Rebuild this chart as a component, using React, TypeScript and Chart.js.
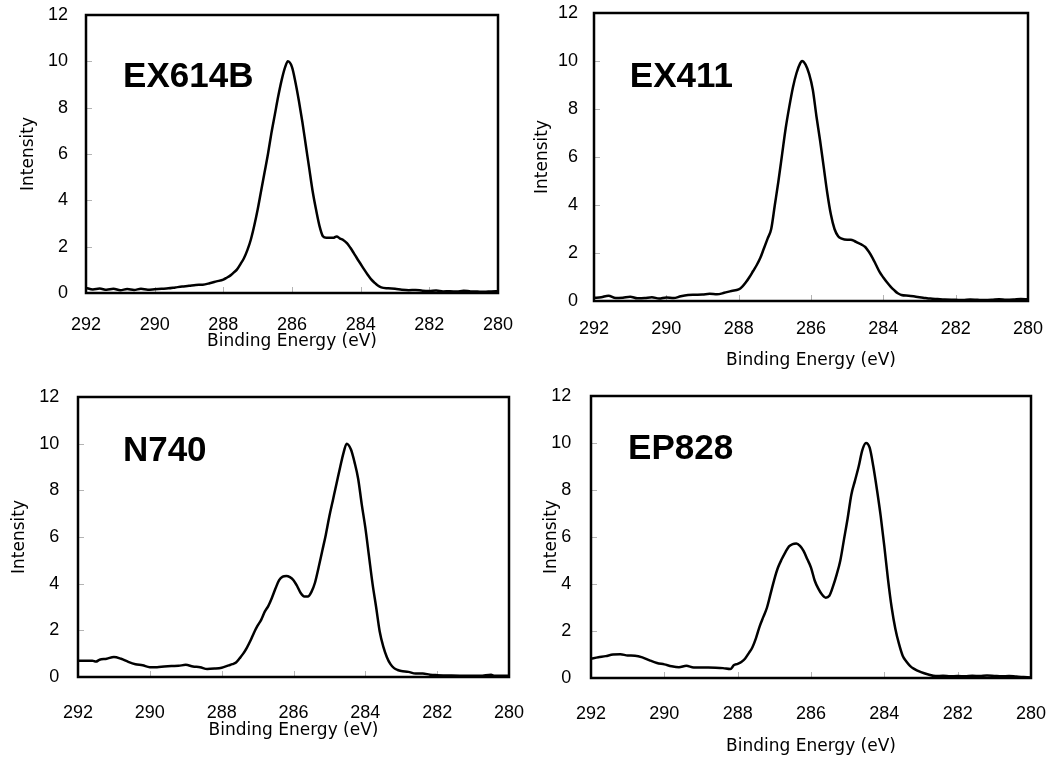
import React, { useEffect, useRef } from "react";
import { Chart, registerables } from "chart.js";

Chart.register(...registerables);

// ---- tick values ----
const xTickValues = [292, 290, 288, 286, 284, 282, 280];
const yTickValues = [0, 2, 4, 6, 8, 10, 12];
const xAxisTitle = "Binding Energy (eV)";
const yAxisTitle = "Intensity";
const sampleNames = ["EX614B", "EX411", "N740", "EP828"];

// ---- EX614B ----
const ex614bEnergy = [292.0, 291.8, 291.6, 291.4, 291.2, 291.0, 290.8, 290.6, 290.4, 290.2, 290.0, 289.8, 289.6, 289.4, 289.2, 289.0, 288.8, 288.6, 288.4, 288.2, 288.0, 287.9, 287.8, 287.7, 287.6, 287.5, 287.4, 287.3, 287.2, 287.1, 287.0, 286.9, 286.8, 286.7, 286.6, 286.5, 286.4, 286.3, 286.2, 286.12, 286.0, 285.9, 285.8, 285.7, 285.6, 285.5, 285.4, 285.3, 285.2, 285.1, 285.0, 284.9, 284.8, 284.7, 284.6, 284.5, 284.4, 284.3, 284.2, 284.1, 284.0, 283.9, 283.8, 283.7, 283.6, 283.5, 283.4, 283.2, 283.0, 282.8, 282.6, 282.4, 282.2, 282.0, 281.8, 281.6, 281.4, 281.2, 281.0, 280.8, 280.6, 280.4, 280.2, 280.0];
const ex614bIntensity = [0.22, 0.15, 0.19, 0.14, 0.18, 0.12, 0.17, 0.13, 0.18, 0.14, 0.16, 0.18, 0.2, 0.24, 0.28, 0.31, 0.35, 0.36, 0.42, 0.5, 0.58, 0.66, 0.75, 0.88, 1.02, 1.25, 1.5, 1.85, 2.3, 2.9, 3.6, 4.4, 5.2, 6.0, 6.9, 7.7, 8.5, 9.2, 9.75, 10.0, 9.75, 9.1, 8.3, 7.4, 6.4, 5.4, 4.4, 3.6, 2.9, 2.45, 2.38, 2.38, 2.38, 2.44, 2.35, 2.28, 2.15, 1.95, 1.72, 1.48, 1.25, 1.02, 0.8, 0.6, 0.45, 0.32, 0.24, 0.2, 0.18, 0.14, 0.12, 0.13, 0.1, 0.09, 0.11, 0.07, 0.08, 0.06, 0.1, 0.07, 0.06, 0.05, 0.07, 0.08];

// ---- EX411 ----
const ex411Energy = [292.0, 291.8, 291.6, 291.4, 291.2, 291.0, 290.8, 290.6, 290.4, 290.2, 290.0, 289.8, 289.6, 289.4, 289.2, 289.0, 288.8, 288.6, 288.4, 288.2, 288.0, 287.9, 287.8, 287.7, 287.6, 287.5, 287.4, 287.3, 287.2, 287.1, 287.0, 286.9, 286.8, 286.7, 286.6, 286.5, 286.4, 286.3, 286.25, 286.15, 286.05, 285.95, 285.85, 285.75, 285.65, 285.55, 285.45, 285.35, 285.25, 285.15, 285.0, 284.9, 284.8, 284.7, 284.6, 284.5, 284.4, 284.3, 284.2, 284.1, 284.0, 283.9, 283.8, 283.7, 283.6, 283.5, 283.3, 283.1, 282.9, 282.7, 282.5, 282.3, 282.0, 281.8, 281.6, 281.4, 281.2, 281.0, 280.8, 280.6, 280.4, 280.2, 280.0];
const ex411Intensity = [0.13, 0.16, 0.22, 0.12, 0.14, 0.18, 0.11, 0.12, 0.16, 0.1, 0.15, 0.12, 0.2, 0.25, 0.26, 0.27, 0.3, 0.28, 0.34, 0.42, 0.48, 0.6, 0.78, 1.0, 1.25, 1.5, 1.8, 2.2, 2.6, 3.0, 4.0, 5.0, 6.1, 7.2, 8.1, 8.9, 9.5, 9.9, 10.0, 9.85, 9.45, 8.8, 7.7, 6.7, 5.6, 4.5, 3.6, 3.0, 2.7, 2.6, 2.55, 2.55, 2.5, 2.42, 2.35, 2.25, 2.05, 1.8, 1.5, 1.2, 0.98, 0.78, 0.6, 0.45, 0.32, 0.25, 0.22, 0.18, 0.14, 0.1, 0.08, 0.06, 0.05, 0.04, 0.06, 0.05, 0.04, 0.05, 0.07, 0.05, 0.06, 0.08, 0.07];

// ---- N740 ----
const n740Energy = [292.0, 291.8, 291.6, 291.5, 291.4, 291.2, 291.0, 290.8, 290.6, 290.4, 290.2, 290.0, 289.8, 289.6, 289.4, 289.2, 289.0, 288.8, 288.6, 288.4, 288.2, 288.0, 287.8, 287.7, 287.6, 287.5, 287.4, 287.3, 287.2, 287.1, 287.0, 286.9, 286.8, 286.7, 286.6, 286.5, 286.4, 286.3, 286.2, 286.1, 286.0, 285.9, 285.8, 285.7, 285.6, 285.5, 285.4, 285.3, 285.2, 285.1, 285.0, 284.9, 284.8, 284.7, 284.6, 284.52, 284.4, 284.3, 284.2, 284.1, 284.0, 283.9, 283.8, 283.7, 283.6, 283.5, 283.4, 283.3, 283.2, 283.1, 283.0, 282.8, 282.6, 282.4, 282.2, 282.0, 281.6, 281.2, 280.8, 280.5, 280.4, 280.0];
const n740Intensity = [0.7, 0.7, 0.7, 0.66, 0.74, 0.78, 0.86, 0.78, 0.65, 0.55, 0.5, 0.42, 0.42, 0.45, 0.47, 0.48, 0.52, 0.45, 0.42, 0.34, 0.36, 0.4, 0.5, 0.55, 0.62, 0.8, 1.0, 1.25, 1.55, 1.9, 2.2, 2.45, 2.8, 3.05, 3.4, 3.8, 4.15, 4.3, 4.33, 4.28, 4.15, 3.9, 3.6, 3.45, 3.45, 3.65, 4.05, 4.7, 5.4, 6.1, 6.9, 7.6, 8.3, 9.0, 9.65, 10.0, 9.75, 9.2, 8.5, 7.4, 6.4, 5.2, 4.0, 3.0, 1.95, 1.3, 0.85, 0.55, 0.38, 0.3, 0.26, 0.22, 0.15, 0.15, 0.1, 0.08, 0.06, 0.05, 0.05, 0.1, 0.05, 0.05];

// ---- EP828 ----
const ep828Energy = [292.0, 291.8, 291.6, 291.4, 291.2, 291.0, 290.8, 290.6, 290.4, 290.2, 290.0, 289.8, 289.6, 289.4, 289.2, 289.0, 288.8, 288.6, 288.4, 288.2, 288.1, 288.0, 287.9, 287.8, 287.7, 287.6, 287.5, 287.4, 287.3, 287.2, 287.1, 287.0, 286.9, 286.8, 286.7, 286.6, 286.5, 286.4, 286.3, 286.2, 286.1, 286.0, 285.9, 285.8, 285.7, 285.6, 285.5, 285.4, 285.3, 285.2, 285.1, 285.0, 284.9, 284.8, 284.7, 284.6, 284.5, 284.4, 284.3, 284.2, 284.1, 284.0, 283.9, 283.8, 283.7, 283.6, 283.5, 283.4, 283.3, 283.2, 283.0, 282.8, 282.6, 282.4, 282.2, 282.0, 281.8, 281.6, 281.4, 281.2, 281.0, 280.8, 280.6, 280.4, 280.2, 280.0];
const ep828Intensity = [0.82, 0.88, 0.93, 1.0, 1.01, 0.96, 0.95, 0.88, 0.75, 0.64, 0.58, 0.5, 0.46, 0.52, 0.45, 0.45, 0.45, 0.44, 0.42, 0.38, 0.55, 0.6, 0.68, 0.82, 1.05, 1.3, 1.7, 2.2, 2.6, 3.0, 3.6, 4.2, 4.7, 5.05, 5.35, 5.6, 5.7, 5.72, 5.62, 5.4, 5.05, 4.7, 4.15, 3.8, 3.55, 3.42, 3.5, 3.9, 4.4, 5.0, 5.9, 6.8, 7.8, 8.4, 9.0, 9.7, 10.0, 9.8, 9.0, 8.0, 6.9, 5.6, 4.2, 3.0, 2.1, 1.45, 0.95, 0.7, 0.52, 0.4, 0.25, 0.15, 0.08, 0.1, 0.07, 0.09, 0.07, 0.1, 0.08, 0.11, 0.09, 0.07, 0.09, 0.06, 0.04, 0.02];

const energies = [ex614bEnergy, ex411Energy, n740Energy, ep828Energy];
const intensities = [ex614bIntensity, ex411Intensity, n740Intensity, ep828Intensity];

// ---- layout (pixels) ----
const Y_AXIS_W = 76;
const X_AXIS_H = 80;
const PAD_TOP = 40;
const PAD_RIGHT = 50;

const panels = [
  { left: 86, top: 15, width: 412, height: 278, labelX: 290.92, labelY: 8.89, xTickPad: 21.5, yTickPad: 18, xTitlePad: 20.8, yTitlePad: 8.8 },
  { left: 594, top: 13, width: 434, height: 288, labelX: 291.01, labelY: 8.9, xTickPad: 17, yTickPad: 16, xTitlePad: 9.8, yTitlePad: 14.1 },
  { left: 78, top: 397, width: 431, height: 280, labelX: 290.75, labelY: 9.27, xTickPad: 25, yTickPad: 18.7, xTitlePad: 15.8, yTitlePad: 7.1 },
  { left: 591, top: 396, width: 440, height: 282, labelX: 290.99, labelY: 9.32, xTickPad: 25, yTickPad: 19.7, xTitlePad: 0.8, yTitlePad: 26 },
];

const framePlugin = {
  id: "frame",
  beforeDatasetsDraw(chart: any) {
    const { ctx, chartArea: a, scales } = chart;
    ctx.save();
    ctx.strokeStyle = "#b4b4b4";
    ctx.lineWidth = 1;
    ctx.beginPath();
    xTickValues.forEach((v) => {
      const px = Math.round(scales.x.getPixelForValue(v)) + 0.5;
      ctx.moveTo(px, a.bottom);
      ctx.lineTo(px, a.bottom - 6);
    });
    yTickValues.forEach((v) => {
      const py = Math.round(scales.y.getPixelForValue(v)) + 0.5;
      ctx.moveTo(a.left, py);
      ctx.lineTo(a.left + 6, py);
    });
    ctx.stroke();
    ctx.restore();
  },
  afterDatasetsDraw(chart: any, _args: any, opts: any) {
    const { ctx, chartArea: a, scales } = chart;
    ctx.save();
    ctx.strokeStyle = "#000";
    ctx.lineWidth = 2.5;
    ctx.strokeRect(a.left, a.top, a.right - a.left, a.bottom - a.top);
    ctx.fillStyle = "#000";
    ctx.font = 'bold 35px "Liberation Sans", Arial, sans-serif';
    ctx.textAlign = "left";
    ctx.textBaseline = "alphabetic";
    ctx.fillText(opts.text, scales.x.getPixelForValue(opts.x), scales.y.getPixelForValue(opts.y));
    ctx.restore();
  },
};

function Panel({ index }: { index: number }) {
  const ref = useRef<HTMLCanvasElement | null>(null);
  const p = panels[index];
  const cw = p.width + Y_AXIS_W + PAD_RIGHT;
  const ch = p.height + PAD_TOP + X_AXIS_H;

  useEffect(() => {
    if (!ref.current) return;
    const data = energies[index].map((e, i) => ({ x: e, y: intensities[index][i] }));
    const tickFont = { family: '"Liberation Sans", Arial, sans-serif', size: 18 };
    const titleFont = { family: '"DejaVu Sans", sans-serif', size: 17 };
    const chart = new Chart(ref.current, {
      type: "line",
      data: {
        datasets: [
          {
            data,
            borderColor: "#000",
            borderWidth: 2.5,
            pointRadius: 0,
            cubicInterpolationMode: "monotone",
            fill: false,
          },
        ],
      },
      options: {
        animation: false,
        responsive: false,
        events: [],
        layout: { padding: { top: PAD_TOP, right: PAD_RIGHT, left: 0, bottom: 0 } },
        plugins: {
          legend: { display: false },
          tooltip: { enabled: false },
          frame: { text: sampleNames[index], x: p.labelX, y: p.labelY },
        } as any,
        scales: {
          x: {
            type: "linear",
            min: 280,
            max: 292,
            reverse: true,
            afterBuildTicks: (s: any) => {
              s.ticks = xTickValues.map((v) => ({ value: v }));
            },
            afterFit: (s: any) => {
              s.height = X_AXIS_H;
            },
            ticks: { color: "#000", font: tickFont, padding: p.xTickPad, maxRotation: 0, autoSkip: false },
            grid: { display: false, drawTicks: false },
            border: { display: false },
            title: {
              display: true,
              text: xAxisTitle,
              color: "#000",
              font: titleFont,
              padding: { top: 0, bottom: p.xTitlePad },
            },
          },
          y: {
            type: "linear",
            min: 0,
            max: 12,
            afterBuildTicks: (s: any) => {
              s.ticks = yTickValues.map((v) => ({ value: v }));
            },
            afterFit: (s: any) => {
              s.width = Y_AXIS_W;
            },
            ticks: { color: "#000", font: tickFont, padding: p.yTickPad },
            grid: { display: false, drawTicks: false },
            border: { display: false },
            title: {
              display: true,
              text: yAxisTitle,
              color: "#000",
              font: titleFont,
              padding: { top: p.yTitlePad, bottom: 0 },
            },
          },
        },
      } as any,
      plugins: [framePlugin as any],
    });
    return () => chart.destroy();
  }, [index]);

  return (
    <canvas
      ref={ref}
      width={cw}
      height={ch}
      style={{
        position: "absolute",
        left: p.left - Y_AXIS_W,
        top: p.top - PAD_TOP,
        width: cw,
        height: ch,
      }}
    />
  );
}

export default function App() {
  return (
    <div
      style={{
        position: "absolute",
        left: 0,
        top: 0,
        width: 1056,
        height: 758,
        background: "#fff",
        overflow: "hidden",
      }}
    >
      {panels.map((_, i) => (
        <Panel key={i} index={i} />
      ))}
    </div>
  );
}
